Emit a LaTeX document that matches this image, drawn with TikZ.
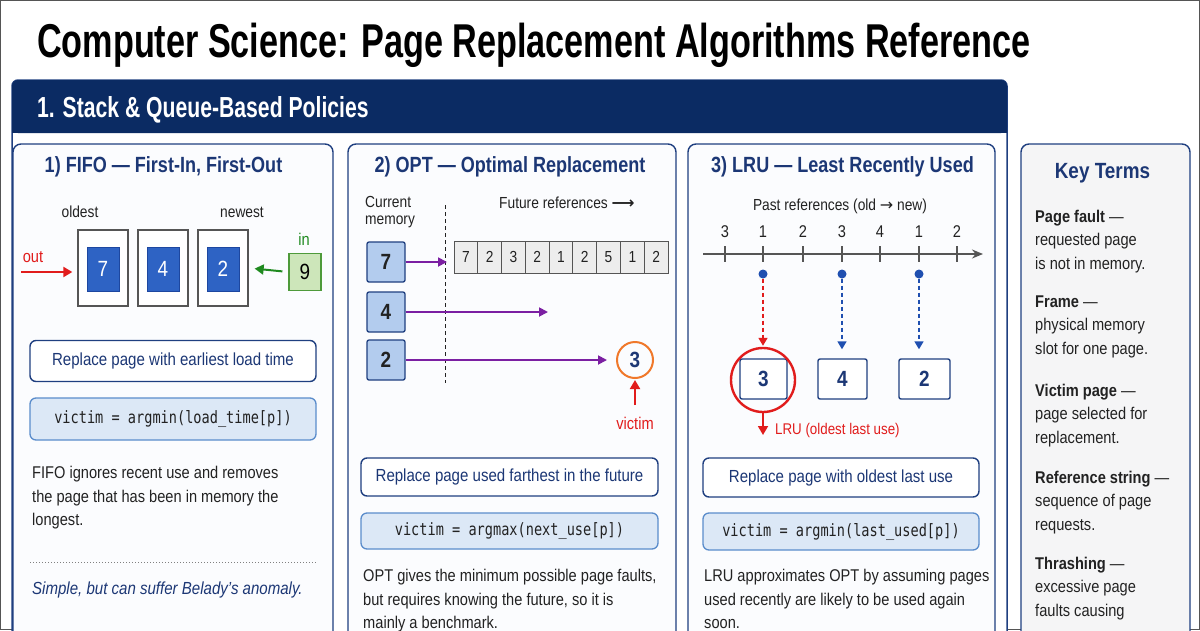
\documentclass[tikz,border=0pt]{standalone}
\usepackage{fontspec}
\setmainfont{Liberation Sans}[FakeStretch=0.86]
\newfontfamily\condfont{Liberation Sans}[FakeStretch=0.73]
\newfontfamily\titlefont{Liberation Sans}[FakeStretch=0.72]
\newfontfamily\ptfont{Liberation Sans}[FakeStretch=0.82]
\newfontfamily\codefont{DejaVu Sans Mono}[FakeStretch=0.8]
\newfontfamily\symfont{DejaVu Sans}
\usetikzlibrary{arrows.meta,calc}
\definecolor{navyline}{HTML}{1F3F80}
\definecolor{navytext}{HTML}{1C3775}
\definecolor{headerbg}{HTML}{0B2B63}
\definecolor{panelbg}{HTML}{FBFCFE}
\definecolor{keybg}{HTML}{F5F5F6}
\definecolor{darktext}{HTML}{222222}
\definecolor{slotgray}{HTML}{555555}
\definecolor{bluepage}{HTML}{2E63C4}
\definecolor{bluedark}{HTML}{1D47A0}
\definecolor{codefill}{HTML}{DCE8F6}
\definecolor{codeborder}{HTML}{5A8CCB}
\definecolor{greenfill}{HTML}{CDE6BA}
\definecolor{greenborder}{HTML}{4E9A3A}
\definecolor{greenc}{HTML}{1F8A1F}
\definecolor{redc}{HTML}{E11C1C}
\definecolor{orangec}{HTML}{F0782A}
\definecolor{purplec}{HTML}{7B1FA2}
\definecolor{memfill}{HTML}{B3CCEE}
\definecolor{cellfill}{HTML}{EDEDED}
\definecolor{axisgray}{HTML}{555555}
\definecolor{dotblue}{HTML}{1F4FB0}
\tikzset{
  panel/.style={draw=navyline, line width=1.4, rounded corners=8, fill=panelbg},
  ptitle/.style={font=\fontsize{22}{24}\ptfont\bfseries, text=navytext, inner sep=0},
  lbl/.style={font=\fontsize{16}{18}\selectfont, text=darktext, inner sep=0},
  para/.style={font=\fontsize{17}{23.5}\selectfont, align=left, inner sep=0, text=darktext, anchor=north west},
  frameslot/.style={draw=slotgray, line width=1.3, fill=white, minimum width=50, minimum height=76, inner sep=0},
  bluesq/.style={draw=bluedark, fill=bluepage, line width=1, minimum width=32, minimum height=44, text=white, font=\fontsize{22}{24}\selectfont, inner sep=0},
  greenbox/.style={draw=greenborder, fill=greenfill, line width=1.2, minimum width=32, minimum height=37, text=black, font=\fontsize{22}{24}\selectfont, inner sep=0},
  rulebox/.style={draw=navyline, line width=1.4, rounded corners=6, fill=white, text=navytext, font=\fontsize{17.5}{20}\selectfont, inner sep=0},
  codebox/.style={draw=codeborder, line width=1.3, rounded corners=6, fill=codefill, text=darktext, font=\fontsize{17}{20}\codefont, inner sep=0},
  membox/.style={draw=navyline, line width=1.3, rounded corners=2, fill=memfill, minimum width=38, minimum height=40, text=darktext, font=\fontsize{22}{24}\selectfont\bfseries, inner sep=0},
  refcell/.style={draw=slotgray, line width=0.9, fill=cellfill, minimum width=23.78, minimum height=32, text=darktext, font=\fontsize{16}{18}\selectfont, inner sep=0},
  lrubox/.style={draw=navyline, line width=1.4, rounded corners=2, fill=white, minimum height=40, text=navytext, font=\fontsize{22}{24}\selectfont\bfseries, inner sep=0},
  redarrow/.style={draw=redc, line width=2, -{Triangle[length=9pt,width=10pt]}},
  greenarrow/.style={draw=greenc, line width=2, -{Triangle[length=9pt,width=10pt]}},
  purplearrow/.style={draw=purplec, line width=1.8, -{Triangle[length=9pt,width=9pt]}},
  reddash/.style={draw=redc, line width=1.5, dash pattern=on 4pt off 3pt, -{Triangle[length=8pt,width=9pt]}},
  bluedash/.style={draw=dotblue, line width=1.5, dash pattern=on 4pt off 3pt, -{Triangle[length=8pt,width=9pt]}},
  dotnode/.style={circle, fill=dotblue, minimum size=9, inner sep=0},
}
\begin{document}
\begin{tikzpicture}[x=1pt,y=-1pt]
\useasboundingbox (0,0) rectangle (1200,630);
\clip (0,0) rectangle (1200,630);
\fill[white] (0,0) rectangle (1200,630);
\draw[slotgray, line width=1.2] (0.6,0.6) rectangle (1199.4,629.4);

% title
\node[anchor=base west, inner sep=0, font=\fontsize{47.5}{50}\titlefont\bfseries, text=black] (title) at (37,57) {Computer Science: Page Replacement Algorithms Reference};

% section container
\draw[navyline, line width=1.5, rounded corners=6, fill=white] (12,80) rectangle (1007,660);
\fill[headerbg, rounded corners=6] (12,80) rectangle (1007,133);
\fill[headerbg] (12,115) rectangle (1007,133);
\node[anchor=base west, inner sep=0, text=white, font=\fontsize{29}{30}\condfont\bfseries] (sechead) at (37,117) {1. Stack \& Queue-Based Policies};

% panels
\draw[panel] (13,144) rectangle (333,660);
\draw[panel] (348,144) rectangle (676,660);
\draw[panel] (688,144) rectangle (995,660);
\draw[panel, fill=keybg] (1021,144) rectangle (1190,660);

% ---------- FIFO ----------
\node[ptitle] (fifotitle) at (163.5,167) {1) FIFO — First-In, First-Out};
\node[lbl] (oldest) at (80,212) {oldest};
\node[lbl] (newest) at (242,212) {newest};
\node[frameslot] (f1) at (103,268) {};
\node[frameslot] (f2) at (163,268) {};
\node[frameslot] (f3) at (223,268) {};
\node[bluesq] (p7) at (103,269) {7};
\node[bluesq] (p4) at (163,269) {4};
\node[bluesq] (p2) at (223,269) {2};
\node[greenbox] (in9) at (305,272) {9};
\node[lbl, text=greenc, font=\fontsize{17}{18}\selectfont] (inlbl) at (304,239) {in};
\draw[greenarrow, shorten <=6pt, shorten >=6pt] (in9.west) -- (f3.east);
\coordinate (outstart) at (21,272);
\draw[redarrow, shorten >=5pt] (outstart) -- (f1.west |- outstart);
\node[lbl, text=redc, font=\fontsize{17}{18}\selectfont] (outlbl) at (33,257) {out};
\node[rulebox, minimum width=286, minimum height=41] (fiforule) at (173,361) {Replace page with earliest load time};
\node[codebox, minimum width=286, minimum height=42] (fifocode) at (173,419) {victim = argmin(load\_time[p])};
\node[para] (fifotext) at (32,466) {FIFO ignores recent use and removes\\the page that has been in memory the\\longest.};
\draw[gray, line width=1, dotted] (30,562) -- (316,562);
\node[anchor=west, inner sep=0, text=navytext, font=\fontsize{17.5}{20}\selectfont\itshape] (fifonote) at (32,590) {Simple, but can suffer Belady’s anomaly.};

% ---------- OPT ----------
\node[ptitle] (opttitle) at (510,167) {2) OPT — Optimal Replacement};
\node[lbl, anchor=north west, align=left, font=\fontsize{16}{17.5}\selectfont] (curmem) at (365,196) {Current\\memory};
\draw[darktext, line width=1, dash pattern=on 4pt off 3pt] (445,205) -- (445,383);
\node[lbl, anchor=west] (futref) at (499,203) {Future references {\symfont\bfseries ⟶}};
\node[membox] (m7) at (386,262) {7};
\node[membox] (m4) at (386,312) {4};
\node[membox] (m2) at (386,360) {2};
\foreach \v [count=\i] in {7,2,3,2,1,2,5,1,2}
  \node[refcell] (c\i) at ({454+11.89+(\i-1)*23.78},257) {\v};
\node[circle, draw=orangec, line width=2, minimum size=36, inner sep=0, text=navytext, font=\fontsize{22}{24}\selectfont\bfseries] (vict) at (635,360) {3};
\coordinate (t7) at (447,262);
\coordinate (t4) at (548,312);
\draw[purplearrow] (m7.east) -- (t7);
\draw[purplearrow] (m4.east) -- (t4);
\draw[purplearrow, shorten >=9pt] (m2.east) -- (vict.west);
\node[lbl, text=redc, font=\fontsize{17}{18}\selectfont] (victimlbl) at (635,423) {victim};
\coordinate (vbase) at (635,405);
\draw[redarrow, shorten >=1pt] (vbase) -- (vict.south);
\node[rulebox, minimum width=297, minimum height=38] (optrule) at (509.5,477) {Replace page used farthest in the future};
\node[codebox, minimum width=297, minimum height=36] (optcode) at (509.5,531) {victim = argmax(next\_use[p])};
\node[para] (opttext) at (363,569) {OPT gives the minimum possible page faults,\\but requires knowing the future, so it is\\mainly a benchmark.};

% ---------- LRU ----------
\node[ptitle] (lrutitle) at (842.5,167) {3) LRU — Least Recently Used};
\node[lbl] (past) at (840,206) {Past references (old {\symfont →} new)};
\coordinate (ax0) at (703,254);
\coordinate (ax1) at (983,254);
\draw[axisgray, line width=1.6, -{Stealth[length=11pt,width=9pt]}] (ax0) -- (ax1);
\foreach \xx/\n [count=\i] in {725/3,763/1,803/2,842/3,880/4,919/1,957/2} {
  \draw[axisgray, line width=1.4] (\xx,246) -- (\xx,262);
  \node[lbl, font=\fontsize{17}{18}\selectfont] (tk\i) at (\xx,232) {\n};
}
\node[dotnode] (d1) at (763,274) {};
\node[dotnode] (d2) at (842,274) {};
\node[dotnode] (d3) at (919,274) {};
\node[lrubox, minimum width=47] (b3) at (763.5,379) {3};
\node[lrubox, minimum width=49] (b4) at (842.5,379) {4};
\node[lrubox, minimum width=51] (b2) at (924.5,379) {2};
\node[circle, draw=redc, line width=2.4, minimum size=64, inner sep=0] (lrucirc) at (763,380) {};
\draw[reddash, shorten >=1pt] (d1) -- (lrucirc.north);
\draw[bluedash, shorten >=9pt] (d2) -- (d2 |- b4.north);
\draw[bluedash, shorten >=9pt] (d3) -- (d3 |- b2.north);
\coordinate (lrutip) at (763,435);
\draw[redarrow, line width=1.8] (lrucirc.south) -- (lrutip);
\node[anchor=west, inner sep=0, text=redc, font=\fontsize{15.5}{17}\selectfont] (lrulbl) at (775,430) {LRU (oldest last use)};
\node[rulebox, minimum width=276, minimum height=39] (lrurule) at (841,477.5) {Replace page with oldest last use};
\node[codebox, minimum width=276, minimum height=37] (lrucode) at (841,531.5) {victim = argmin(last\_used[p])};
\node[para] (lrutext) at (704,569) {LRU approximates OPT by assuming pages\\used recently are likely to be used again\\soon.};

% ---------- Key terms ----------
\node[inner sep=0, text=navytext, font=\fontsize{22}{24}\selectfont\bfseries] (kttitle) at (1102.5,173) {Key Terms};
\node[para] (kt1) at (1035,209.5) {\textbf{Page fault} —\\requested page\\is not in memory.};
\node[para] (kt2) at (1035,295.5) {\textbf{Frame} —\\physical memory\\slot for one page.};
\node[para] (kt3) at (1035,383.5) {\textbf{Victim page} —\\page selected for\\replacement.};
\node[para] (kt4) at (1035,470.5) {\textbf{Reference string} —\\sequence of page\\requests.};
\node[para] (kt5) at (1035,556.5) {\textbf{Thrashing} —\\excessive page\\faults causing};
\end{tikzpicture}
\end{document}
